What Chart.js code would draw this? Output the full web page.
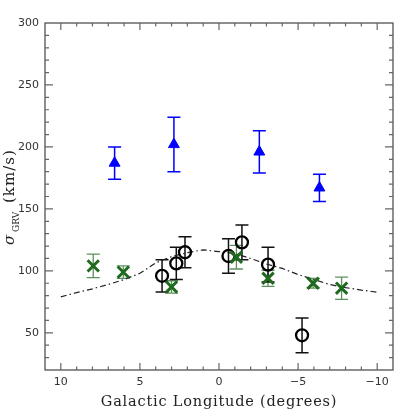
<!DOCTYPE html>
<html>
<head>
<meta charset="utf-8">
<script src="https://cdn.jsdelivr.net/npm/chart.js@4.4.1/dist/chart.umd.min.js"></script>
<style>
  html, body { margin: 0; padding: 0; background: #fff; }
  #wrap { width: 415px; height: 415px; }
</style>
</head>
<body>
<div id="wrap"><canvas id="chart" width="415" height="415"></canvas></div>
<script>
// Axis ticks
const xTicks = [10, 5, 0, -5, -10];
const yTicks = [50, 100, 150, 200, 250, 300];

// Blue triangles
const blueLon = [6.6, 2.85, -2.55, -6.35];
const blueSig = [187, 202, 196, 167];
const blueErr = [13, 22, 17, 11];

// Black circles
const blackLon = [3.6, 2.7, 2.15, -0.6, -1.45, -3.1, -5.25];
const blackSig = [96, 106, 115, 112, 123, 105, 48];
const blackErr = [13, 13, 12.5, 14, 14, 14, 14];

// Green crosses
const greenLon = [7.95, 6.05, 3.0, -1.1, -3.1, -5.95, -7.75];
const greenSig = [104, 99, 87, 111, 94, 90, 86];
const greenErr = [9.5, 5, 5, 9.5, 6.5, 4, 9];

// Dash-dot model curve
const modelLon = [10, 9, 8, 7, 6, 5, 4, 3, 2, 1, 0, -1, -2, -3, -4, -5, -6, -7, -8, -9, -10];
const modelSig = [79, 82.5, 85.5, 89, 93, 98, 106.5, 111.5, 114.7, 117, 115.5, 114, 110, 105.5, 102, 97, 93, 89, 86.5, 84.5, 82.8];

const pts = (xs, ys) => xs.map((x, i) => ({ x: x, y: ys[i] }));

const errorGroups = [
  { lon: greenLon, sig: greenSig, err: greenErr, color: '#5f915f', width: 1.3 },
  { lon: blackLon, sig: blackSig, err: blackErr, color: '#111', width: 1.5 },
  { lon: blueLon, sig: blueSig, err: blueErr, color: '#0000ff', width: 1.5 }
];

// error bars drawn through the scales, under the markers
const errorBars = {
  id: 'errorBars',
  beforeDatasetsDraw(chart) {
    const { ctx, scales: { x, y } } = chart;
    ctx.save();
    errorGroups.forEach(g => {
      ctx.strokeStyle = g.color;
      ctx.lineWidth = g.width;
      g.lon.forEach((lon, i) => {
        const px = x.getPixelForValue(lon);
        const top = y.getPixelForValue(g.sig[i] + g.err[i]);
        const bot = y.getPixelForValue(g.sig[i] - g.err[i]);
        ctx.beginPath();
        ctx.moveTo(px, top); ctx.lineTo(px, bot);
        ctx.moveTo(px - 6.5, top); ctx.lineTo(px + 6.5, top);
        ctx.moveTo(px - 6.5, bot); ctx.lineTo(px + 6.5, bot);
        ctx.stroke();
      });
    });
    ctx.restore();
  }
};

// frame with inward ticks on all four sides, plus axis titles
const frame = {
  id: 'frame',
  afterDraw(chart) {
    const { ctx, chartArea: a, scales: { x, y } } = chart;
    ctx.save();
    ctx.strokeStyle = '#444';
    ctx.lineWidth = 1.2;
    ctx.strokeRect(a.left, a.top, a.right - a.left, a.bottom - a.top);

    ctx.strokeStyle = '#666';
    ctx.beginPath();
    for (let v = -10; v <= 10; v++) {
      const px = x.getPixelForValue(v);
      const len = v % 5 === 0 ? 7 : 3.5;
      ctx.moveTo(px, a.bottom); ctx.lineTo(px, a.bottom - len);
      ctx.moveTo(px, a.top); ctx.lineTo(px, a.top + len);
    }
    for (let v = 30; v < 300; v += 10) {
      const py = y.getPixelForValue(v);
      const len = v % 50 === 0 ? 8 : 4;
      ctx.moveTo(a.left, py); ctx.lineTo(a.left + len, py);
      ctx.moveTo(a.right, py); ctx.lineTo(a.right - len, py);
    }
    ctx.stroke();

    ctx.fillStyle = '#222';
    ctx.textAlign = 'center';
    ctx.textBaseline = 'alphabetic';
    ctx.font = '14.5px "DejaVu Serif"';
    ctx.letterSpacing = '0.8px';
    ctx.fillText('Galactic Longitude (degrees)', (a.left + a.right) / 2, 406);

    // y title: sigma with small GRV subscript, then units
    ctx.translate(14, 245);
    ctx.rotate(-Math.PI / 2);
    ctx.textAlign = 'left';
    ctx.letterSpacing = '0px';
    ctx.font = 'italic 15px "DejaVu Serif"';
    ctx.fillText('\u03c3', 0, 0);
    ctx.font = '9px "DejaVu Serif"';
    ctx.fillText('GRV', 13, 5);
    ctx.font = '15px "DejaVu Serif"';
    ctx.letterSpacing = '1px';
    ctx.fillText('(km/s)', 42, 0);
    ctx.restore();
  }
};

const tickFont = { family: 'DejaVu Sans', size: 11 };

new Chart(document.getElementById('chart'), {
  type: 'scatter',
  data: {
    datasets: [
      {
        label: 'blue',
        data: pts(blueLon, blueSig),
        pointStyle: 'triangle',
        pointRadius: 6.3,
        backgroundColor: '#0000ff',
        borderColor: '#0000ff',
        borderWidth: 1
      },
      {
        label: 'green',
        data: pts(greenLon, greenSig),
        pointStyle: 'crossRot',
        pointRadius: 8,
        borderColor: '#1f6a1f',
        borderWidth: 3
      },
      {
        label: 'black',
        data: pts(blackLon, blackSig),
        pointStyle: 'circle',
        pointRadius: 6,
        backgroundColor: 'rgba(0,0,0,0)',
        borderColor: '#000',
        borderWidth: 2.3
      },
      {
        label: 'model',
        data: pts(modelLon, modelSig),
        showLine: true,
        pointRadius: 0,
        borderColor: '#222',
        borderWidth: 1.2,
        borderDash: [6, 3, 1.5, 3],
        tension: 0
      }
    ]
  },
  options: {
    responsive: false,
    animation: false,
    events: [],
    layout: { padding: { top: 23, right: 22, left: 0, bottom: 0 } },
    plugins: { legend: { display: false }, tooltip: { enabled: false } },
    scales: {
      x: {
        type: 'linear',
        min: -11,
        max: 11,
        reverse: true,
        grid: { display: false, drawTicks: false },
        border: { display: false },
        afterBuildTicks: s => { s.ticks = xTicks.map(v => ({ value: v })); },
        afterFit: s => { s.height = 45; },
        ticks: {
          font: tickFont,
          color: '#333',
          padding: 6,
          maxRotation: 0,
          callback: v => (v < 0 ? '\u2212' + Math.abs(v) : String(v))
        }
      },
      y: {
        type: 'linear',
        min: 20,
        max: 300,
        grid: { display: false, drawTicks: false },
        border: { display: false },
        afterBuildTicks: s => { s.ticks = yTicks.map(v => ({ value: v })); },
        afterFit: s => { s.width = 45; },
        ticks: { font: tickFont, color: '#333', padding: 6 }
      }
    }
  },
  plugins: [errorBars, frame]
});
</script>
</body>
</html>
